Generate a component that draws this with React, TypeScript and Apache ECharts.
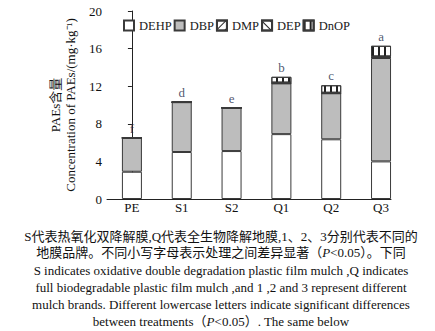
import React, { useEffect, useRef } from "react";
import * as echarts from "echarts";

const categories = ["PE", "S1", "S2", "Q1", "Q2", "Q3"];
const seriesNames = ["DEHP", "DBP", "DMP", "DEP", "DnOP"];
const dehp = [2.9, 5.0, 5.1, 6.9, 6.35, 4.0];
const dbp = [3.6, 5.3, 4.6, 5.4, 4.9, 11.0];
const dmp = [0, 0, 0, 0.04, 0.02, 0.08];
const dep = [0, 0, 0, 0.04, 0.03, 0.08];
const dnop = [0, 0, 0, 0.62, 0.8, 1.14];
const letters = ["f", "d", "e", "b", "c", "a"];
const yTicks = { min: 0, max: 20, interval: 4 };

const serif = "'Liberation Serif', 'Times New Roman', serif";
const mixed = "'Liberation Serif', 'Noto Sans CJK SC', serif";
const captionLines = [
  "S代表热氧化双降解膜,Q代表全生物降解地膜,1、2、3分别代表不同的",
  "地膜品牌。不同小写字母表示处理之间差异显著（{it|P}<0.05）。下同",
  "S indicates oxidative double degradation plastic film mulch ,Q indicates",
  "full biodegradable plastic film mulch ,and 1 ,2 and 3 represent different",
  "mulch brands. Different lowercase letters indicate significant differences",
  "between treatments（{it|P}<0.05）. The same below",
];

export default function App() {
  const ref = useRef<HTMLDivElement>(null);
  useEffect(() => {
    if (!ref.current) return;
    const chart = echarts.init(ref.current, undefined, { renderer: "svg" });
    const stackVals = [dehp, dbp, dmp, dep, dnop];
    const totals = categories.map((_, i) => stackVals.reduce((s, a) => s + a[i], 0));
    const border = { borderColor: "#3a3a3a", borderWidth: 1 };
    const styles: any[] = [
      { color: "#ffffff", ...border },
      { color: "#bdbdbd", ...border },
      {
        color: "#ffffff",
        ...border,
        decal: { symbol: "rect", symbolSize: 1, color: "#222", dashArrayX: [1, 0], dashArrayY: [1, 5], rotation: -Math.PI / 4 },
      },
      {
        color: "#ffffff",
        ...border,
        decal: { symbol: "rect", symbolSize: 1, color: "#222", dashArrayX: [1, 0], dashArrayY: [1, 5], rotation: Math.PI / 4 },
      },
      {
        color: "#ffffff",
        ...border,
        decal: { symbol: "rect", symbolSize: 1, color: "#222", dashArrayX: [1.3, 3.4], dashArrayY: [1, 0], rotation: 0 },
      },
    ];
    // data as [value, categoryIndex] so the stacked dimension is the y value
    const barSeries = seriesNames.map((name, k) => ({
      type: "bar",
      name,
      stack: "total",
      barWidth: 20,
      itemStyle: styles[k],
      encode: { x: 1, y: 0 },
      data: stackVals[k].map((v, i) => [v, i]),
    }));
    const centerX = 221;
    const captionY = [236, 252, 270, 287, 304, 321];
    chart.setOption({
      animation: false,
      backgroundColor: "#ffffff",
      grid: { left: 107, right: 44, top: 11, bottom: 132, containLabel: false },
      legend: {
        left: 118,
        top: 14,
        itemWidth: 10,
        itemHeight: 10,
        itemGap: 2,
        icon: "rect",
        data: seriesNames,
        textStyle: { fontFamily: serif, fontSize: 12.5, color: "#1a1a1a" },
      },
      xAxis: {
        type: "value",
        min: -0.5,
        max: 5.2,
        interval: 0.5,
        splitLine: { show: false },
        axisTick: { show: false },
        axisLine: { show: true, lineStyle: { color: "#222", width: 1 } },
        axisLabel: {
          margin: 2,
          fontFamily: serif,
          fontSize: 13,
          color: "#111",
          showMaxLabel: false,
          formatter: (v: number) => (Number.isInteger(v) && v >= 0 && v < categories.length ? categories[v] : ""),
        },
      },
      yAxis: {
        type: "value",
        min: yTicks.min,
        max: yTicks.max,
        interval: yTicks.interval,
        name: "PAEs含量\nConcentration of PAEs/(mg·kg⁻¹)",
        nameLocation: "middle",
        nameGap: 2,
        nameTextStyle: { fontFamily: mixed, fontSize: 13, lineHeight: 15, color: "#111" },
        splitLine: { show: false },
        axisLine: { show: true, lineStyle: { color: "#222", width: 1 } },
        axisTick: { show: true, length: 4, lineStyle: { color: "#222" } },
        axisLabel: { fontFamily: serif, fontSize: 13, color: "#111", margin: 5 },
      },
      series: [
        ...barSeries,
        {
          type: "scatter",
          name: "letters",
          symbolSize: 0,
          silent: true,
          encode: { x: 1, y: 0 },
          data: totals.map((t, i) => [t, i]),
          label: {
            show: true,
            position: "top",
            distance: 3,
            fontFamily: serif,
            fontSize: 13,
            color: "#1c2a4a",
            formatter: (p: any) => letters[p.dataIndex],
          },
        },
      ],
      graphic: captionLines.map((line, i) => ({
        type: "text",
        x: centerX,
        y: captionY[i],
        style: {
          text: line,
          align: "center",
          verticalAlign: "middle",
          fontFamily: mixed,
          fontSize: 13,
          fill: "#111",
          rich: {
            it: { fontFamily: serif, fontStyle: "italic", fontSize: 13, fill: "#111" },
          },
        },
      })),
    });
    return () => chart.dispose();
  }, []);
  return <div ref={ref} style={{ position: "fixed", left: 0, top: 0, width: 435, height: 331 }} />;
}
